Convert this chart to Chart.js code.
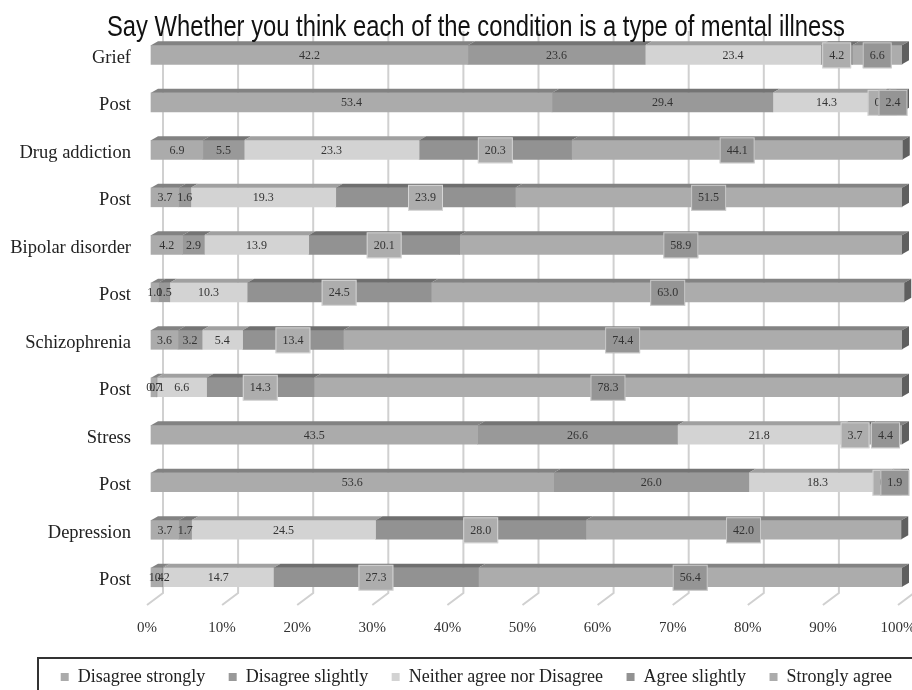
<!DOCTYPE html>
<html>
<head>
<meta charset="utf-8">
<script src="https://cdn.jsdelivr.net/npm/chart.js@4.4.0/dist/chart.umd.min.js"></script>
<style>
  body { margin: 0; background: #fff; }
</style>
</head>
<body>
<canvas id="myChart" width="912" height="690"></canvas>
<script>
{
  ('use strict');

  const TITLE = 'Say Whether you think each of the condition is a type of mental illness';

  const categories = ['Grief', 'Post', 'Drug addiction', 'Post', 'Bipolar disorder', 'Post',
    'Schizophrenia', 'Post', 'Stress', 'Post', 'Depression', 'Post'];

  const disagreeStrongly = [42.2, 53.4, 6.9, 3.7, 4.2, 1.0, 3.6, 0.7, 43.5, 53.6, 3.7, 1.4];
  const disagreeSlightly = [23.6, 29.4, 5.5, 1.6, 2.9, 1.5, 3.2, 0.1, 26.6, 26.0, 1.7, 0.2];
  const neitherAgree = [23.4, 14.3, 23.3, 19.3, 13.9, 10.3, 5.4, 6.6, 21.8, 18.3, 24.5, 14.7];
  const agreeSlightly = [4.2, 0.5, 20.3, 23.9, 20.1, 24.5, 13.4, 14.3, 3.7, 0.2, 28.0, 27.3];
  const stronglyAgree = [6.6, 2.4, 44.1, 51.5, 58.9, 63.0, 74.4, 78.3, 4.4, 1.9, 42.0, 56.4];

  const xTicks = [0, 10, 20, 30, 40, 50, 60, 70, 80, 90, 100];

  const SERIF = '"Liberation Serif", "Times New Roman", serif';
  const NARROW = '"Liberation Sans Narrow", "Arial Narrow", "Liberation Sans", Arial, sans-serif';
  const DEPTH_X = 7;
  const DEPTH_Y = 4;
  const TITLE_WIDTH = 738;

  /* darken a grey hex colour */
  const shade = function (hex, f) {
    const v = Math.round(parseInt(hex.slice(1, 3), 16) * f);
    return 'rgb(' + v + ',' + v + ',' + v + ')';
  };

  /* back wall grid lines with the slanted floor tail */
  const wallGrid = {
    id: 'wallGrid',
    beforeDatasetsDraw(chart) {
      const {ctx, chartArea} = chart;
      const xScale = chart.scales.x;
      ctx.save();
      ctx.strokeStyle = '#d0d0d0';
      ctx.lineWidth = 2;
      xTicks.forEach(function (v) {
        const px = xScale.getPixelForValue(v);
        ctx.beginPath();
        ctx.moveTo(px + 12, chartArea.top);
        ctx.lineTo(px + 12, chartArea.bottom - 8);
        ctx.lineTo(px - 4, chartArea.bottom + 4);
        ctx.stroke();
      });
      ctx.restore();
    },
  };

  /* top and side faces of the 3D bars, then value labels */
  const bars3d = {
    id: 'bars3d',
    afterDatasetsDraw(chart) {
      const {ctx} = chart;
      const datasets = chart.data.datasets;
      ctx.save();

      datasets.forEach(function (ds, di) {
        const meta = chart.getDatasetMeta(di);
        meta.data.forEach(function (el) {
          const p = el.getProps(['x', 'y', 'base', 'height'], true);
          const top = p.y - p.height / 2;
          const bottom = p.y + p.height / 2;
          ctx.fillStyle = shade(ds.backgroundColor, 0.76);
          ctx.beginPath();
          ctx.moveTo(p.base, top);
          ctx.lineTo(p.base + DEPTH_X, top - DEPTH_Y);
          ctx.lineTo(p.x + DEPTH_X, top - DEPTH_Y);
          ctx.lineTo(p.x, top);
          ctx.closePath();
          ctx.fill();

          /* right side face on the last segment */
          if (di === datasets.length - 1) {
            ctx.fillStyle = shade(ds.backgroundColor, 0.55);
            ctx.beginPath();
            ctx.moveTo(p.x, top);
            ctx.lineTo(p.x + DEPTH_X, top - DEPTH_Y);
            ctx.lineTo(p.x + DEPTH_X, bottom - DEPTH_Y);
            ctx.lineTo(p.x, bottom);
            ctx.closePath();
            ctx.fill();
          }
        });
      });

      ctx.font = '12px ' + SERIF;
      ctx.textAlign = 'center';
      ctx.textBaseline = 'middle';
      datasets.forEach(function (ds, di) {
        const meta = chart.getDatasetMeta(di);
        meta.data.forEach(function (el, i) {
          const p = el.getProps(['x', 'y', 'base', 'height'], true);
          const cx = (p.x + p.base) / 2;
          const text = ds.data[i].toFixed(1);
          if (ds.labelBox) {
            const w = ctx.measureText(text).width + 14;
            ctx.fillStyle = ds.labelBox;
            ctx.fillRect(cx - w / 2, p.y - p.height / 2 - 3, w, p.height + 7);
            ctx.strokeStyle = 'rgba(255,255,255,0.5)';
            ctx.lineWidth = 1;
            ctx.strokeRect(cx - w / 2 + 0.5, p.y - p.height / 2 - 2.5, w - 1, p.height + 6);
          }
          ctx.fillStyle = '#333';
          ctx.fillText(text, cx, p.y + 1);
        });
      });
      ctx.restore();
    },
  };

  /* title over the plot and a frame round the legend */
  const extras = {
    id: 'extras',
    afterDraw(chart) {
      const {ctx, legend} = chart;
      ctx.save();
      ctx.font = '29px ' + NARROW;
      ctx.fillStyle = '#111';
      ctx.textAlign = 'center';
      ctx.textBaseline = 'alphabetic';
      const sx = Math.min(1, TITLE_WIDTH / ctx.measureText(TITLE).width);
      ctx.translate(chart.width / 2 + 20, 36);
      ctx.scale(sx, 1);
      ctx.fillText(TITLE, 0, 0);
      ctx.restore();

      ctx.save();
      ctx.strokeStyle = '#333';
      ctx.lineWidth = 2;
      ctx.strokeRect(38, legend.top, chart.width, legend.height + 20);
      ctx.restore();
    },
  };

  const ctx = document.getElementById('myChart').getContext('2d');

  // eslint-disable-next-line
  const chart = new Chart(ctx, {
    type: 'bar',
    data: {
      labels: categories,
      datasets: [
        {label: 'Disagree strongly', data: disagreeStrongly, backgroundColor: '#ababab'},
        {label: 'Disagree slightly', data: disagreeSlightly, backgroundColor: '#999999'},
        {label: 'Neither agree nor Disagree', data: neitherAgree, backgroundColor: '#d3d3d3'},
        {label: 'Agree slightly', data: agreeSlightly, backgroundColor: '#929292', labelBox: '#adadad'},
        {label: 'Strongly agree', data: stronglyAgree, backgroundColor: '#acacac', labelBox: '#959595'},
      ],
    },
    options: {
      indexAxis: 'y',
      responsive: false,
      animation: false,
      devicePixelRatio: 1,
      datasets: {
        bar: {barThickness: 19, borderWidth: 0, clip: false},
      },
      layout: {
        padding: {top: 31, right: 10, bottom: -6, left: 0},
      },
      scales: {
        x: {
          stacked: true,
          min: 0,
          max: 100,
          grid: {display: false, drawTicks: false},
          border: {display: false},
          ticks: {
            stepSize: 10,
            padding: 18,
            labelOffset: -4,
            color: '#333',
            font: {family: SERIF, size: 15},
            callback: function (v) {
              return v + '%';
            },
          },
          afterFit: function (scale) {
            scale.height = 57;
            scale.paddingLeft = 0;
            scale.paddingRight = 0;
          },
        },
        y: {
          stacked: true,
          grid: {display: false, drawTicks: false},
          border: {display: false},
          ticks: {
            padding: 20,
            labelOffset: 3,
            color: '#222',
            font: {family: SERIF, size: 18.5},
          },
          afterFit: function (scale) {
            scale.width = 151;
          },
        },
      },
      plugins: {
        legend: {
          position: 'bottom',
          align: 'end',
          labels: {
            boxWidth: 8,
            boxHeight: 8,
            padding: 10,
            color: '#222',
            font: {family: SERIF, size: 18},
            generateLabels: function (chart) {
              const items = Chart.defaults.plugins.legend.labels.generateLabels(chart);
              /* widen the gap between legend entries */
              items.forEach(function (item, i) {
                if (i < items.length - 1) {
                  item.text = item.text + '   ';
                }
              });
              return items;
            },
          },
        },
        tooltip: {enabled: false},
      },
    },
    plugins: [wallGrid, bars3d, extras],
  });
}
</script>
</body>
</html>
